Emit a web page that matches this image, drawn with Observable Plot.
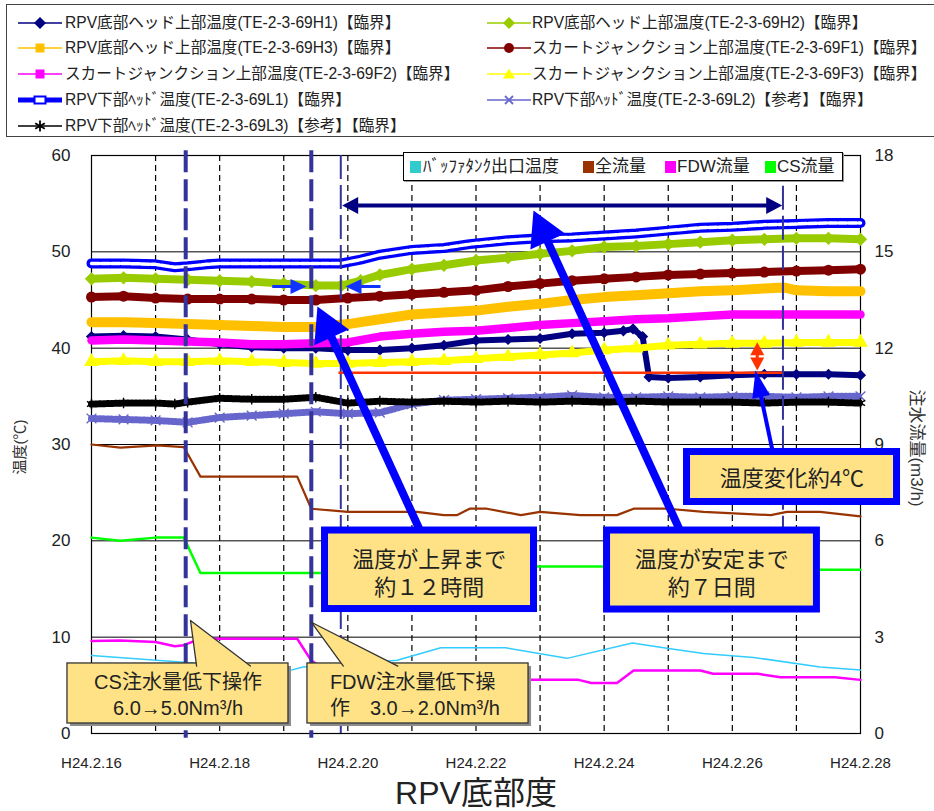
<!DOCTYPE html>
<html><head><meta charset="utf-8">
<script src="https://cdn.jsdelivr.net/npm/d3@7"></script>
<script src="https://cdn.jsdelivr.net/npm/@observablehq/plot@0.6"></script>
<style>
body{margin:0;background:#fff;font-family:"Liberation Sans","Noto Sans CJK JP",sans-serif;}
#wrap{position:relative;width:934px;height:811px;overflow:hidden;background:#fff;}
#legend{position:absolute;left:6px;top:4px;width:940px;height:133px;border:1.5px solid #444;box-sizing:border-box;}
.item{position:absolute;height:22px;line-height:22px;font-size:15.6px;color:#222;white-space:nowrap;}
.sw{position:absolute;}
#chart{position:absolute;left:0;top:140px;}
#plegend{position:absolute;left:403px;top:152px;width:440px;height:29px;border:1px solid #000;background:#fff;box-sizing:border-box;box-shadow:1px 1px 0 #999;}
.pli{position:absolute;top:156px;height:22px;line-height:22px;font-size:17px;color:#222;white-space:nowrap;}
.plsq{position:absolute;top:161px;width:11px;height:12px;}
</style></head>
<body><div id="wrap"><div id="legend"></div><div id="chart"></div><div id="plegend"></div></div>
<script>
// ---------- data (day of Feb, H24 = 2012) ----------
const h1 = [[16,41.2],[16.5,41.3],[17,41.2],[17.5,40.9],[18,40.4],[18.5,40.1],[19,40.0],[19.5,40.0],[20,39.8],[20.5,39.8],[21,40.0],[21.5,40.3],[22,40.8],[22.5,40.9],[23,41.0],[23.5,41.5],[24,41.6],[24.3,41.8],[24.45,42.0],[24.6,41.2],[24.7,37.0],[25,36.9],[25.5,37.0],[26,37.2],[26.5,37.3],[27,37.3],[27.5,37.3],[28,37.2]];
const h2 = [[16,47.2],[16.5,47.3],[17,47.2],[17.5,47.1],[18,47.0],[18.5,46.9],[19,46.7],[19.5,46.5],[19.9,46.5],[20.2,47.0],[20.5,47.6],[21,48.2],[21.5,48.6],[22,49.1],[22.5,49.4],[23,49.8],[23.5,50.1],[24,50.5],[24.5,50.6],[25,50.8],[25.5,51.0],[26,51.2],[26.5,51.3],[27,51.4],[27.5,51.4],[28,51.3]];
const h3 = [[16,42.7],[16.5,42.7],[17,42.6],[17.5,42.5],[18,42.4],[18.5,42.3],[19,42.2],[19.5,42.2],[20,42.5],[20.5,43.0],[21,43.5],[21.5,43.7],[22,43.9],[22.5,44.3],[23,44.6],[23.5,45.0],[24,45.3],[24.5,45.5],[25,45.7],[25.5,45.9],[26,46.0],[26.5,46.2],[26.8,46.3],[27,46.0],[27.5,45.9],[28,45.9]];
const f1 = [[16,45.3],[16.5,45.4],[17,45.2],[17.5,45.1],[18,45.1],[18.5,45.1],[19,45.0],[19.5,45.0],[20,45.2],[20.5,45.4],[21,45.6],[21.5,45.8],[22,46.0],[22.5,46.4],[23,46.7],[23.5,47.0],[24,47.2],[24.5,47.4],[25,47.6],[25.5,47.7],[26,47.8],[26.5,47.9],[27,48.0],[27.5,48.1],[28,48.2]];
const f2 = [[16,40.8],[16.5,40.9],[17,40.8],[17.5,40.7],[18,40.6],[18.5,40.4],[19,40.4],[19.5,40.5],[20,40.6],[20.5,41.2],[21,41.5],[21.5,41.7],[22,41.8],[22.5,42.1],[23,42.4],[23.5,42.6],[24,42.8],[24.5,43.0],[25,43.1],[25.5,43.3],[26,43.5],[26.5,43.5],[27,43.5],[27.5,43.5],[28,43.5]];
const f3 = [[16,38.6],[16.5,38.7],[17,38.6],[17.5,38.6],[18,38.7],[18.5,38.6],[19,38.5],[19.5,38.4],[20,38.4],[20.5,38.5],[21,38.6],[21.5,38.7],[22,38.9],[22.5,39.1],[23,39.3],[23.5,39.5],[24,39.8],[24.5,40.0],[25,40.3],[25.5,40.4],[26,40.5],[26.5,40.5],[27,40.6],[27.5,40.6],[28,40.6]];
const l1 = [[16,48.8],[16.5,48.8],[17,48.7],[17.3,48.4],[17.5,48.5],[17.8,48.7],[18,48.8],[18.5,48.8],[19,48.8],[19.5,48.8],[19.9,48.8],[20.2,49.2],[20.5,49.7],[21,50.2],[21.5,50.4],[21.9,50.8],[22.5,51.2],[23,51.4],[23.5,51.5],[24,51.7],[24.5,51.9],[25,52.2],[25.5,52.5],[26,52.6],[26.5,52.8],[27,52.9],[27.5,53.0],[28,53.0]];
const l2 = [[16,32.7],[16.5,32.6],[17,32.5],[17.5,32.3],[18,32.8],[18.5,33.0],[19,33.2],[19.5,33.4],[20,33.2],[20.5,33.3],[21,34.2],[21.5,34.6],[22,34.7],[22.5,34.8],[23,34.9],[23.5,35.1],[24,34.9],[24.5,34.9],[25,35.0],[25.5,34.9],[26,35.0],[26.5,35.0],[27,34.9],[27.5,35.0],[28,35.0]];
const l3 = [[16,34.2],[16.5,34.3],[17,34.3],[17.3,34.2],[17.5,34.4],[18,34.8],[18.5,34.7],[19,34.7],[19.5,34.9],[20,34.3],[20.5,34.5],[21,34.4],[21.5,34.5],[22,34.4],[22.5,34.5],[23,34.4],[23.5,34.5],[24,34.4],[24.5,34.5],[25,34.4],[25.5,34.4],[26,34.4],[26.5,34.3],[27,34.4],[27.5,34.4],[28,34.3]];
// buffer tank outlet temperature (°C)
const bufferTemp = [[16,8.1],[17.44,7.4],[18.3,6.9],[19.07,6.5],[19.3,6.9],[20.2,7.3],[20.77,7.6],[21.45,8.9],[22.46,8.9],[23.42,7.8],[24.44,9.4],[25.03,8.8],[25.55,8.3],[26.33,7.9],[27.37,6.9],[28,6.6]];
// flows (m3/h, right axis)
const totalFlow = [[16,9.0],[16.45,8.9],[17.03,8.97],[17.44,8.92],[17.7,8.0],[19.21,8.0],[19.43,7.0],[20,6.9],[21.08,6.9],[21.5,6.8],[21.7,6.8],[21.9,7.0],[22.17,7.0],[22.7,6.8],[23.0,6.9],[23.63,6.8],[24.2,6.8],[24.46,7.0],[25.0,7.0],[25.55,6.9],[26.6,6.8],[26.85,6.9],[27.37,6.9],[28,6.76]];
const fdwFlow = [[16,2.88],[16.45,2.9],[17.0,2.85],[17.3,2.72],[17.44,2.75],[17.7,2.95],[19.21,2.95],[19.43,2.27],[19.8,1.8],[22.8,1.67],[23.6,1.67],[23.8,1.57],[24.2,1.57],[24.46,1.96],[25.5,1.96],[25.7,1.86],[26.4,1.86],[26.75,1.75],[27.6,1.75],[28,1.67]];
const csFlow = [[16,6.1],[16.45,6.0],[17.0,6.1],[17.44,6.1],[17.7,5.0],[20.5,5.0],[21.5,5.2],[24.0,5.2],[26.0,5.1],[28,5.1]];

// ticks
const xTicks = [16,18,20,22,24,26,28];
const xTickLabels = ["H24.2.16","H24.2.18","H24.2.20","H24.2.22","H24.2.24","H24.2.26","H24.2.28"];
const dayGrid = [17,18,19,20,21,22,23,24,25,26,27];
const yTicks = [0,10,20,30,40,50,60];
const flowTickLabels = ["0","3","6","9","12","15","18"];
const flowMax = 18, tempMax = 60;

// series names
const names = {
  H1:"RPV底部ヘッド上部温度(TE-2-3-69H1)【臨界】",
  H2:"RPV底部ヘッド上部温度(TE-2-3-69H2)【臨界】",
  H3:"RPV底部ヘッド上部温度(TE-2-3-69H3)【臨界】",
  F1:"スカートジャンクション上部温度(TE-2-3-69F1)【臨界】",
  F2:"スカートジャンクション上部温度(TE-2-3-69F2)【臨界】",
  F3:"スカートジャンクション上部温度(TE-2-3-69F3)【臨界】",
  L1:"RPV下部ﾍｯﾄﾞ温度(TE-2-3-69L1)【臨界】",
  L2:"RPV下部ﾍｯﾄﾞ温度(TE-2-3-69L2)【参考】【臨界】",
  L3:"RPV下部ﾍｯﾄﾞ温度(TE-2-3-69L3)【参考】【臨界】"
};
const flowNames = ["ﾊﾞｯﾌｧﾀﾝｸ出口温度","全流量","FDW流量","CS流量"];

// annotations (data units)
const opLines = [17.47, 19.43];
const refLines = [{x:19.89,y1:60,y2:0},{x:26.79,y1:56.8,y2:20.8}];
const navyArrow = [{x1:19.99,y1:54.81,x2:26.70,y2:54.81}];
const smallArrows = [{x1:18.82,y1:46.4,x2:19.293,y2:46.4},{x1:20.51,y1:46.4,x2:20.026,y2:46.4}];
const redLine = [{x1:19.854,x2:26.779,y:37.45}];
const redArrow = [{x1:26.389,y1:40.21,x2:26.389,y2:38.10}];
const bigArrows = [{x1:21.197,y1:20.04,x2:19.578,y2:43.57},{x1:25.254,y1:20.04,x2:22.949,y2:53.53}];
const midArrow = [{x1:26.643,y1:28.86,x2:26.381,y2:37.07}];
const blueBoxes = [
  {x1:19.644,x2:22.905,y1:21.07,y2:12.92,cx:21.27,cy:16.8,text:"温度が上昇まで\n約１２時間"},
  {x1:24.045,x2:27.32,y1:21.07,y2:12.87,cx:25.68,cy:16.8,text:"温度が安定まで\n約７日間"},
  {x1:25.293,x2:28.57,y1:29.22,y2:24.03,cx:26.93,cy:26.6,text:"温度変化約4℃"}
];
const calloutBoxes = [
  {x1:15.625,x2:19.074,y1:7.27,y2:1.04},
  {x1:19.37,x2:22.82,y1:7.27,y2:1.04}
];
const pointerCS = [[17.64,7.0],[17.545,11.73],[18.48,7.0]];
const pointerFDW = [[19.93,7.0],[19.43,11.55],[20.78,7.0]];
const csText = [{x:17.35,y:4.15,text:"CS注水量低下操作\n6.0→5.0Nm³/h"}];
const fdwText = [{x:19.72,y:4.15,text:"FDW注水量低下操\n作　3.0→2.0Nm³/h"}];

// ---------- legend ----------
const sym = {
  diamond: c => `<polygon points="22,4 28,10 22,16 16,10" fill="${c}"/>`,
  square: c => `<rect x="17.5" y="5.5" width="9" height="9" fill="${c}"/>`,
  circle: c => `<circle cx="22" cy="10" r="5" fill="${c}"/>`,
  triangle: c => `<polygon points="22,4.5 28,14.5 16,14.5" fill="${c}"/>`,
  opensq: c => `<rect x="16.5" y="6.5" width="11" height="7" fill="#fff" stroke="${c}" stroke-width="2"/>`,
  times: c => `<path d="M18,6L26,14M26,6L18,14" stroke="${c}" stroke-width="1.8"/>`,
  asterisk: c => `<path d="M22,4.5V15.5M17.2,7.2L26.8,12.8M26.8,7.2L17.2,12.8" stroke="${c}" stroke-width="1.8"/>`
};
const legendItems = [
  {k:"H1",c:"#000080",s:"diamond",col:0,row:0,lw:1.5},
  {k:"H2",c:"#99CC00",s:"diamond",col:1,row:0,lw:1.5},
  {k:"H3",c:"#FFC000",s:"square",col:0,row:1,lw:1.5},
  {k:"F1",c:"#800000",s:"circle",col:1,row:1,lw:1.5},
  {k:"F2",c:"#FF00FF",s:"square",col:0,row:2,lw:1.5},
  {k:"F3",c:"#FFFF00",s:"triangle",col:1,row:2,lw:1.5},
  {k:"L1",c:"#0000FF",s:"opensq",col:0,row:3,lw:5},
  {k:"L2",c:"#6666CC",s:"times",col:1,row:3,lw:1.5},
  {k:"L3",c:"#000000",s:"asterisk",col:0,row:4,lw:1.5}
];
const rowY = [22.7,48,73.5,100,126];
const colLine = [18,487], colText = [65,532];
const wrap = document.getElementById("wrap");
legendItems.forEach(it => {
  const y = rowY[it.row];
  const sw = document.createElement("div");
  sw.className = "sw";
  sw.style.left = colLine[it.col] + "px"; sw.style.top = (y-10) + "px";
  sw.innerHTML = `<svg width="44" height="20"><line x1="0" y1="10" x2="44" y2="10" stroke="${it.c}" stroke-width="${it.lw}"/>${sym[it.s](it.c)}</svg>`;
  wrap.appendChild(sw);
  const t = document.createElement("div");
  t.className = "item";
  t.style.left = colText[it.col] + "px"; t.style.top = (y-11) + "px";
  t.textContent = names[it.k];
  wrap.appendChild(t);
});
const plItems = [
  {c:"#33CCCC",sq:410,tx:423},{c:"#993300",sq:583,tx:595},{c:"#FF00FF",sq:665,tx:677},{c:"#00FF00",sq:765,tx:777}
];
plItems.forEach((p,i) => {
  const s = document.createElement("div"); s.className="plsq"; s.style.left=p.sq+"px"; s.style.background=p.c; wrap.appendChild(s);
  const t = document.createElement("div"); t.className="pli"; t.style.left=p.tx+"px"; t.textContent=flowNames[i]; wrap.appendChild(t);
});

// ---------- chart ----------
const X = d => d[0], Y = d => d[1];
const F = d => d[1] * tempMax / flowMax;
const boxFill = "#FFE286";

function tempSeries(data, o) {
  const m = [Plot.line(data, {x:X, y:Y, stroke:o.c, strokeWidth:o.w, strokeDasharray:o.dash})];
  if (o.inner) m.push(Plot.line(data, {x:X, y:Y, stroke:"#fff", strokeWidth:o.inner, strokeDasharray:"8,2"}));
  if (o.thin) m.push(Plot.line(data, {x:X, y:Y, stroke:o.c, strokeWidth:o.thin}));
  if (o.sym) m.push(Plot.dot(data, {x:X, y:Y, symbol:o.sym, r:o.r, fill:o.fill ? o.c : "none", stroke:o.fill ? "none" : o.c, strokeWidth:1.4}));
  return m;
}

const plot = Plot.plot({
  width: 934, height: 671,
  marginTop: 15, marginBottom: 78, marginLeft: 91, marginRight: 74,
  x: {domain: [16, 28]},
  y: {domain: [0, 60]},
  style: {fontFamily: '"Liberation Sans","Noto Sans CJK JP",sans-serif', background: "transparent", overflow: "visible", color: "#222"},
  marks: [
    Plot.ruleY(yTicks, {stroke: "#000", strokeWidth: 1}),
    Plot.ruleX(dayGrid, {stroke: "#000", strokeWidth: 1.2, strokeDasharray: "6,4"}),
    Plot.frame({stroke: "#000", strokeWidth: 1.2}),
    Plot.axisX({ticks: xTicks, tickFormat: d => xTickLabels[xTicks.indexOf(d)], tickSize: 0, tickPadding: 24, fontSize: 15, label: null, fill: "#222"}),
    Plot.axisY({ticks: yTicks, tickSize: 0, tickPadding: 21, fontSize: 17, label: null, fill: "#222"}),
    Plot.axisY({anchor: "right", ticks: yTicks, tickFormat: d => flowTickLabels[yTicks.indexOf(d)], tickSize: 0, tickPadding: 14, fontSize: 17, label: null, fill: "#222"}),
    // flows & buffer temperature
    Plot.line(bufferTemp, {x:X, y:Y, stroke:"#33CCFF", strokeWidth:1.5}),
    Plot.line(totalFlow, {x:X, y:F, stroke:"#993300", strokeWidth:2.2}),
    Plot.line(fdwFlow, {x:X, y:F, stroke:"#FF00FF", strokeWidth:2.5}),
    Plot.line(csFlow, {x:X, y:F, stroke:"#00FF00", strokeWidth:2.5}),
    // temperature series
    ...tempSeries(h1, {c:"#000080", w:6, sym:"diamond2", r:5, fill:true}),
    ...tempSeries(h2, {c:"#99CC00", w:8, sym:"diamond2", r:6, fill:true}),
    ...tempSeries(h3, {c:"#FFC000", w:10}),
    ...tempSeries(f1, {c:"#800000", w:8, sym:"circle", r:5.5, fill:true}),
    ...tempSeries(f2, {c:"#FF00FF", w:8.5}),
    ...tempSeries(f3, {c:"#FFFF00", w:7, sym:"triangle", r:5.5, fill:true}),
    ...tempSeries(l1, {c:"#0000FF", w:10, inner:3.5}),
    ...tempSeries(l2, {c:"#6666CC", w:7, dash:"1.2,2.8", thin:1.6, sym:"times", r:4.5}),
    ...tempSeries(l3, {c:"#000000", w:7, dash:"1.2,2.8", thin:1.6, sym:"asterisk", r:5}),
    // operation lines
    Plot.ruleX(opLines, {y1:60.5, y2:-0.5, stroke:"#333399", strokeWidth:4, strokeDasharray:"22,7"}),
    Plot.ruleX(refLines, {x:"x", y1:"y1", y2:"y2", stroke:"#333399", strokeWidth:2, strokeDasharray:"24,6"}),
    Plot.link(redLine, {x1:"x1", x2:"x2", y1:"y", y2:"y", stroke:"#FF3300", strokeWidth:2.5}),
    Plot.link(navyArrow, {x1:"x1", y1:"y1", x2:"x2", y2:"y2", stroke:"#000080", strokeWidth:4}),
    Plot.link(smallArrows, {x1:"x1", y1:"y1", x2:"x2", y2:"y2", stroke:"#1133FF", strokeWidth:3}),
    Plot.link(redArrow, {x1:"x1", y1:"y1", x2:"x2", y2:"y2", stroke:"#FF3300", strokeWidth:3}),
    Plot.link(bigArrows, {x1:"x1", y1:"y1", x2:"x2", y2:"y2", stroke:"#0000FF", strokeWidth:8}),
    Plot.link(midArrow, {x1:"x1", y1:"y1", x2:"x2", y2:"y2", stroke:"#0000FF", strokeWidth:4}),
    // blue boxes
    Plot.rect(blueBoxes, {x1:"x1", x2:"x2", y1:"y1", y2:"y2", fill:boxFill, stroke:"#0000FF", strokeWidth:7}),
    Plot.text(blueBoxes, {x:"cx", y:"cy", text:"text", fontSize:22, lineHeight:1.29, fill:"#222"}),
    // callouts
    Plot.rect(calloutBoxes, {x1:"x1", x2:"x2", y1:"y1", y2:"y2", fill:"#8c8c8c", dx:3, dy:3}),
    Plot.rect(calloutBoxes, {x1:"x1", x2:"x2", y1:"y1", y2:"y2", fill:boxFill, stroke:"#333", strokeWidth:1.3}),
    Plot.line(pointerCS, {x:X, y:Y, fill:boxFill, stroke:"#333", strokeWidth:1.3}),
    Plot.line(pointerFDW, {x:X, y:Y, fill:boxFill, stroke:"#333", strokeWidth:1.3}),
    Plot.text(csText, {x:"x", y:"y", text:"text", textAnchor:"middle", fontSize:20, lineHeight:1.3, fill:"#222"}),
    Plot.text(fdwText, {x:"x", y:"y", text:"text", textAnchor:"start", fontSize:20, lineHeight:1.3, fill:"#222"})
  ]
});

// arrowheads
const svg = d3.select(plot);
const defs = svg.insert("defs", ":first-child");
function addMarker(id, d, color) {
  defs.append("marker").attr("id", id).attr("markerUnits", "userSpaceOnUse").attr("orient", "auto-start-reverse")
    .attr("markerWidth", 1).attr("markerHeight", 1).attr("refX", 0).attr("refY", 0).style("overflow", "visible")
    .append("path").attr("d", d).attr("fill", color);
}
addMarker("mBig", "M-26,-19L8,0L-26,19Z", "#0000FF");
addMarker("mMid", "M-21,-9L6,0L-21,9Z", "#0000FF");
addMarker("mNavy", "M-11,-8.5L5,0L-11,8.5Z", "#000080");
addMarker("mSmall", "M-12,-7.5L4,0L-12,7.5Z", "#1133FF");
addMarker("mRed", "M-9,-7L4,0L-9,7Z", "#FF3300");
// link groups in mark order: redLine, navy, small, red, big, mid
const linkGroups = svg.selectAll('g[aria-label="link"]').nodes();
const setM = (i, end, start) => {
  const g = d3.select(linkGroups[i]);
  g.selectAll("path, line").attr("marker-end", `url(#${end})`);
  if (start) g.selectAll("path, line").attr("marker-start", `url(#${start})`);
};
if (linkGroups.length >= 6) {
  setM(1, "mNavy", "mNavy");
  setM(2, "mSmall");
  setM(3, "mRed", "mRed");
  setM(4, "mBig");
  setM(5, "mMid");
}

// axis titles
svg.append("text").attr("transform", "translate(20,307) rotate(-90)").attr("text-anchor", "middle").attr("dy", "0.35em")
  .attr("font-size", 15).attr("fill", "#333").text("温度(℃)");
svg.append("text").attr("transform", "translate(917,308) rotate(90)").attr("text-anchor", "middle").attr("dy", "0.35em")
  .attr("font-size", 17).attr("fill", "#333").text("注水流量(m3/h)");
svg.append("text").attr("x", 476).attr("y", 653).attr("text-anchor", "middle").attr("dy", "0.35em")
  .attr("font-size", 32).attr("fill", "#222").text("RPV底部度");

document.getElementById("chart").appendChild(plot);
</script></body></html>
